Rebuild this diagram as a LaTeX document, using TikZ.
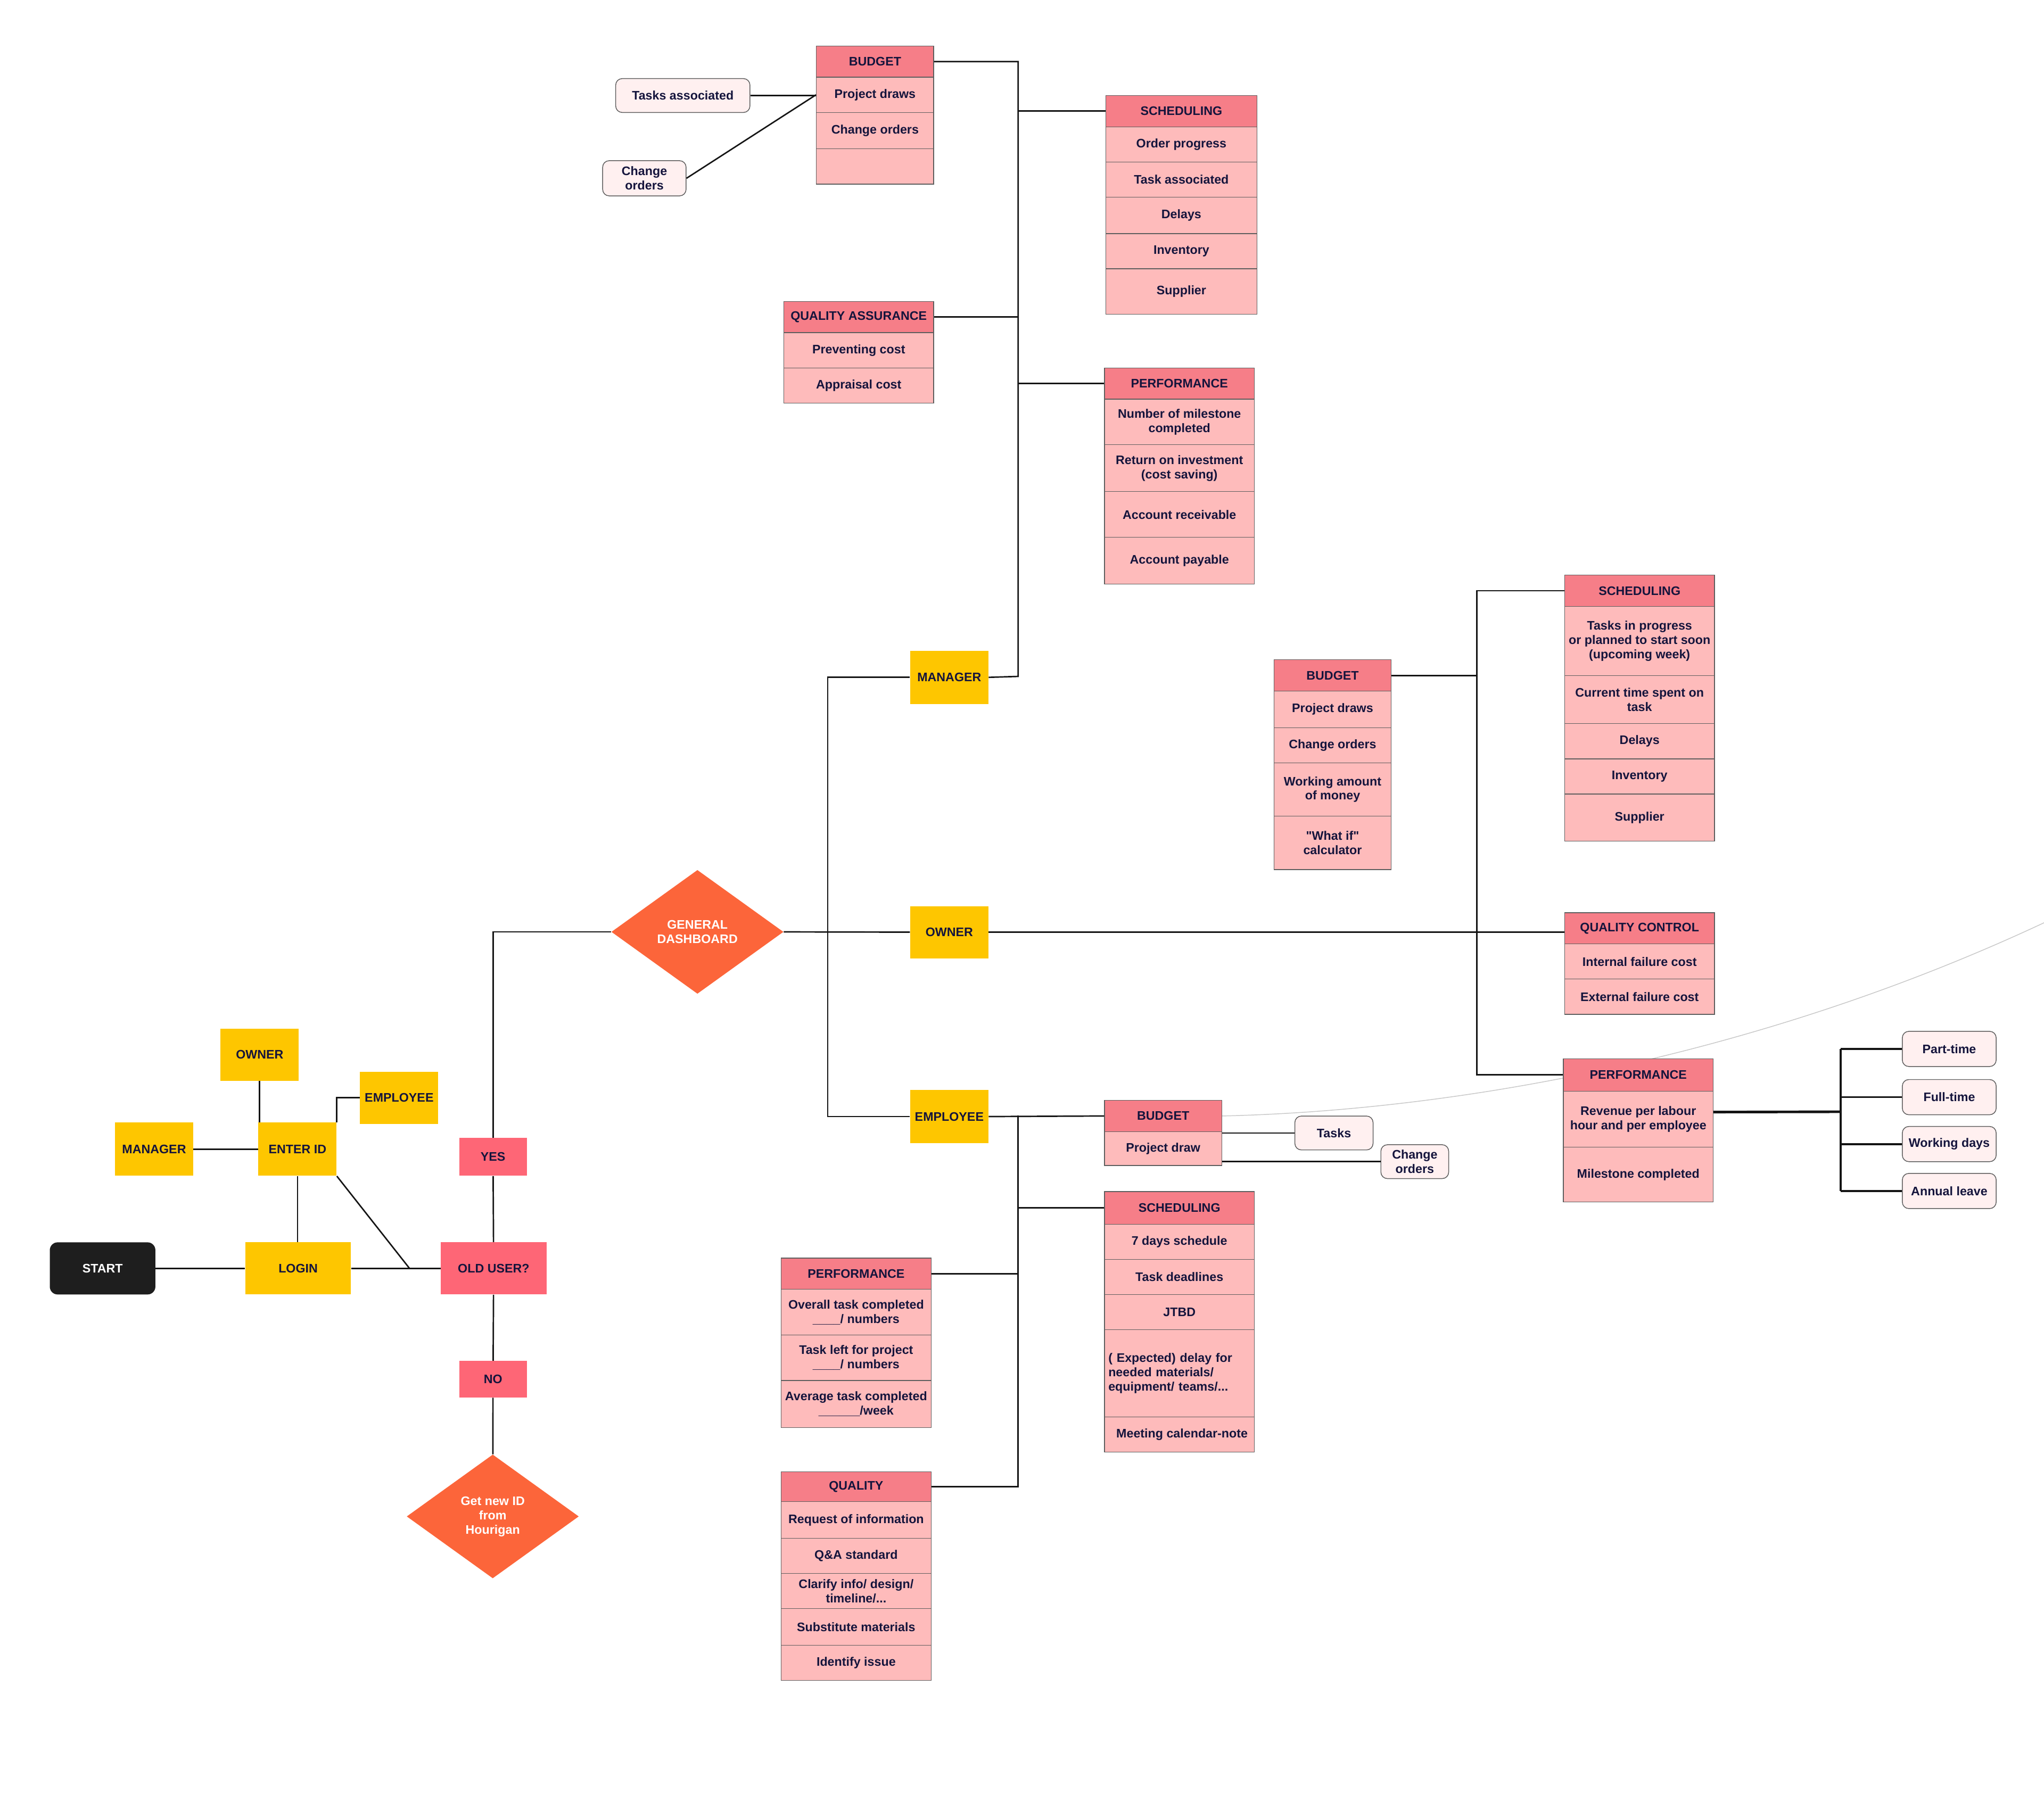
\documentclass[tikz,border=0pt]{standalone}
\usepackage{fontspec}
\setmainfont{Liberation Sans}[Ligatures=TeXOff]
\usetikzlibrary{shapes.geometric,backgrounds}
\definecolor{hdrc}{HTML}{F67E88}
\definecolor{cellc}{HTML}{FEBBBB}
\definecolor{bordc}{HTML}{5E5E5E}
\definecolor{yel}{HTML}{FEC600}
\definecolor{decc}{HTML}{FE6676}
\definecolor{orng}{HTML}{FC653A}
\definecolor{pillc}{HTML}{FFF0F0}
\definecolor{txt}{HTML}{14143C}
\definecolor{startc}{HTML}{1E1E1E}
\definecolor{curvec}{HTML}{C8C8C8}
\begin{document}
\begin{tikzpicture}[x=1pt,y=-1pt,
  base/.style={font=\bfseries\fontsize{9.5}{11}\selectfont, text=txt, align=center, inner sep=1pt, anchor=north west},
  hdr/.style={base, fill=hdrc, draw=bordc, line width=0.5pt},
  cell/.style={base, fill=cellc, draw=bordc, line width=0.5pt},
  role/.style={base, fill=yel},
  dec/.style={base, fill=decc},
  pill/.style={base, fill=pillc, draw=bordc, rounded corners=5pt, line width=0.6pt},
  dia/.style={diamond, fill=orng, text=white, font=\bfseries\fontsize{9.5}{11}\selectfont, inner sep=0pt, align=center, minimum width=132pt, minimum height=95pt},
  wd/.style={minimum width=#1pt},
  ht/.style={minimum height=#1pt},
  conn/.style={line width=1.1pt, draw=black!92},
  thk/.style={line width=2pt, draw=black!92},
  thkb/.style={line width=1.5pt, draw=black!92}
]
\useasboundingbox (0,0) rectangle (1568,1382.6);

% ---------------- manager group ----------------
\node[hdr,wd=90,ht=24] (mbud) at (626,35) {BUDGET};
\node[cell,wd=90,ht=27] (mbud1) at (626,59) {Project draws};
\node[cell,wd=90,ht=28] (mbud2) at (626,86) {Change orders};
\node[cell,wd=90,ht=27] (mbud3) at (626,114) {};
\node[pill,wd=103,ht=26] (mta) at (472,60) {Tasks associated};
\node[pill,wd=64,ht=27] (mco) at (462,123) {Change\\orders};

\node[hdr,wd=116,ht=24] (msch) at (848,73) {SCHEDULING};
\node[cell,wd=116,ht=27] (msch1) at (848,97) {Order progress};
\node[cell,wd=116,ht=27] (msch2) at (848,124) {Task associated};
\node[cell,wd=116,ht=28] (msch3) at (848,151) {Delays};
\node[cell,wd=116,ht=27] (msch4) at (848,179) {Inventory};
\node[cell,wd=116,ht=35] (msch5) at (848,206) {Supplier};

\node[hdr,wd=115,ht=24] (mqa) at (601,231) {QUALITY ASSURANCE};
\node[cell,wd=115,ht=27] (mqa1) at (601,255) {Preventing cost};
\node[cell,wd=115,ht=27] (mqa2) at (601,282) {Appraisal cost};

\node[hdr,wd=115,ht=24] (mperf) at (847,282) {PERFORMANCE};
\node[cell,wd=115,ht=35] (mperf1) at (847,306) {Number of milestone\\completed};
\node[cell,wd=115,ht=36] (mperf2) at (847,341) {Return on investment\\(cost saving)};
\node[cell,wd=115,ht=35] (mperf3) at (847,377) {Account receivable};
\node[cell,wd=115,ht=36] (mperf4) at (847,412) {Account payable};

% ---------------- roles ----------------
\node[role,wd=60,ht=41] (mgr) at (698,499) {MANAGER};
\node[role,wd=60,ht=40] (own) at (698,695) {OWNER};
\node[role,wd=60,ht=41] (emp) at (698,836) {EMPLOYEE};
\node[dia] (dash) at (535,715) {GENERAL\\DASHBOARD};

% ---------------- owner group ----------------
\node[hdr,wd=90,ht=24] (obud) at (977,506) {BUDGET};
\node[cell,wd=90,ht=28] (obud1) at (977,530) {Project draws};
\node[cell,wd=90,ht=27] (obud2) at (977,558) {Change orders};
\node[cell,wd=90,ht=41] (obud3) at (977,585) {Working amount\\of money};
\node[cell,wd=90,ht=41] (obud4) at (977,626) {"What if"\\calculator};

\node[hdr,wd=115,ht=24] (osch) at (1200,441) {SCHEDULING};
\node[cell,wd=115,ht=53] (osch1) at (1200,465) {Tasks in progress\\or planned to start soon\\(upcoming week)};
\node[cell,wd=115,ht=37] (osch2) at (1200,518) {Current time spent on\\task};
\node[cell,wd=115,ht=27] (osch3) at (1200,555) {Delays};
\node[cell,wd=115,ht=27] (osch4) at (1200,582) {Inventory};
\node[cell,wd=115,ht=36] (osch5) at (1200,609) {Supplier};

\node[hdr,wd=115,ht=24] (oqc) at (1200,700) {QUALITY CONTROL};
\node[cell,wd=115,ht=27] (oqc1) at (1200,724) {Internal failure cost};
\node[cell,wd=115,ht=27] (oqc2) at (1200,751) {External failure cost};

\node[hdr,wd=115,ht=25] (operf) at (1199,812) {PERFORMANCE};
\node[cell,wd=115,ht=43] (operf1) at (1199,837) {Revenue per labour\\hour and per employee};
\node[cell,wd=115,ht=42] (operf2) at (1199,880) {Milestone completed};

\node[pill,wd=72,ht=27] (ppt) at (1459,791) {Part-time};
\node[pill,wd=72,ht=27] (pft) at (1459,828) {Full-time};
\node[pill,wd=72,ht=27] (pwd) at (1459,864) {Working days};
\node[pill,wd=72,ht=27] (pal) at (1459,900) {Annual leave};

% ---------------- employee group ----------------
\node[hdr,wd=90,ht=24] (ebud) at (847,844) {BUDGET};
\node[cell,wd=90,ht=26] (ebud1) at (847,868) {Project draw};
\node[pill,wd=60,ht=26] (etk) at (993,856) {Tasks};
\node[pill,wd=52,ht=26] (eco) at (1059,878) {Change\\orders};

\node[hdr,wd=115,ht=25] (esch) at (847,914) {SCHEDULING};
\node[cell,wd=115,ht=27] (esch1) at (847,939) {7 days schedule};
\node[cell,wd=115,ht=27] (esch2) at (847,966) {Task deadlines};
\node[cell,wd=115,ht=27] (esch3) at (847,993) {JTBD};
\node[cell,wd=115,ht=67,text width=109pt,align=left] (esch4) at (847,1020) {( Expected) delay for\\needed materials/\\equipment/ teams/...};
\node[cell,wd=115,ht=27] (esch5) at (847,1087) {\hspace*{4pt}Meeting calendar-note};

\node[hdr,wd=115,ht=24] (eperf) at (599,965) {PERFORMANCE};
\node[cell,wd=115,ht=35] (eperf1) at (599,989) {Overall task completed\\\_\_\_\_/ numbers};
\node[cell,wd=115,ht=35] (eperf2) at (599,1024) {Task left for project\\\_\_\_\_/ numbers};
\node[cell,wd=115,ht=36] (eperf3) at (599,1059) {Average task completed\\\_\_\_\_\_\_/week};

\node[hdr,wd=115,ht=23] (equal) at (599,1129) {QUALITY};
\node[cell,wd=115,ht=28] (equal1) at (599,1152) {Request of information};
\node[cell,wd=115,ht=27] (equal2) at (599,1180) {Q\&A standard};
\node[cell,wd=115,ht=27] (equal3) at (599,1207) {Clarify info/ design/\\timeline/...};
\node[cell,wd=115,ht=28] (equal4) at (599,1234) {Substitute materials};
\node[cell,wd=115,ht=27] (equal5) at (599,1262) {Identify issue};

% ---------------- left part ----------------
\node[base,fill=startc,text=white,rounded corners=6pt,wd=81,ht=40] (start) at (38,953) {START};
\node[role,wd=81,ht=40] (login) at (188,953) {LOGIN};
\node[dec,wd=81,ht=40] (old) at (338,953) {OLD USER?};
\node[role,wd=60,ht=41] (enter) at (198,861) {ENTER ID};
\node[role,wd=60,ht=40] (ownL) at (169,789) {OWNER};
\node[role,wd=60,ht=41] (mgrL) at (88,861) {MANAGER};
\node[role,wd=60,ht=40] (empL) at (276,822) {EMPLOYEE};
\node[dec,wd=52,ht=29] (yes) at (352,873) {YES};
\node[dec,wd=52,ht=28] (no) at (352,1044) {NO};
\node[dia] (newid) at (378,1163.5) {Get new ID\\from\\Hourigan};

% ---------------- background ----------------
\coordinate (cend) at (1568,708);
\begin{pgfonlayer}{background}
\fill[white] (0,0) rectangle (1568,1382.6);
\draw[curvec,line width=0.6pt] (ebud.east) .. controls (1120,852) and (1350,810) .. (cend);
\end{pgfonlayer}

% ---------------- connectors ----------------
\coordinate (mtr) at (781,519);
\draw[conn] (mbud.east) -| (mtr) -- (mgr.east);
\draw[conn] (msch.west) -- (msch.west -| mtr);
\draw[conn] (mqa.east) -- (mqa.east -| mtr);
\draw[conn] (mperf.west) -- (mperf.west -| mtr);
\draw[conn] (mta.east) -- (mta.east -| mbud1.west);
\draw[conn] (mco.east) -- (mbud1.west);

\coordinate (dtr) at (635,715);
\draw[conn] (dash.east) -- (own.west);
\draw[conn] (mgr.west) -- (mgr.west -| dtr) -- (emp.west -| dtr) -- (emp.west);

\coordinate (otr) at (1133,518);
\draw[conn] (own.east) -- (own.east -| oqc.west);
\draw[conn] (obud.east) -- (obud.east -| otr);
\draw[conn] (osch.west) -- (osch.west -| otr) -- (operf.west -| otr) -- (operf.west);
\coordinate (ptr) at (1412,853);
\draw[thk] ([yshift=5.5pt]operf1.east) -- (ptr);
\draw[thk] (ppt.west -| ptr) -- (pal.west -| ptr);
\foreach \p in {ppt,pft,pwd,pal} \draw[thkb] (\p.west) -- (\p.west -| ptr);

\coordinate (etr) at (781,856);
\draw[conn] (emp.east) -- (ebud.west);
\draw[conn] (etr) -- (equal.east -| etr) -- (equal.east);
\draw[conn] (esch.west) -- (esch.west -| etr);
\draw[conn] (eperf.east) -- (eperf.east -| etr);
\draw[conn] (etk.west) -- (etk.west -| ebud1.east);
\draw[conn] (eco.west) -- (eco.west -| ebud1.east);

\coordinate (jn) at (314,973);
\draw[conn] (start) -- (login);
\draw[conn] (login) -- (old);
\draw[conn] (enter.south east) -- (jn);
\draw[conn] (enter.south) -- (enter.south |- login.north);
\draw[conn] (mgrL) -- (enter);
\draw[conn] (ownL.south) -- (ownL.south |- enter.north);
\draw[conn] (empL.west) -| (enter.north east);
\draw[conn] (old) -- (yes);
\draw[conn] (yes.north) |- (dash.west);
\draw[conn] (old) -- (no);
\draw[conn] (no) -- (newid);
\end{tikzpicture}
\end{document}
